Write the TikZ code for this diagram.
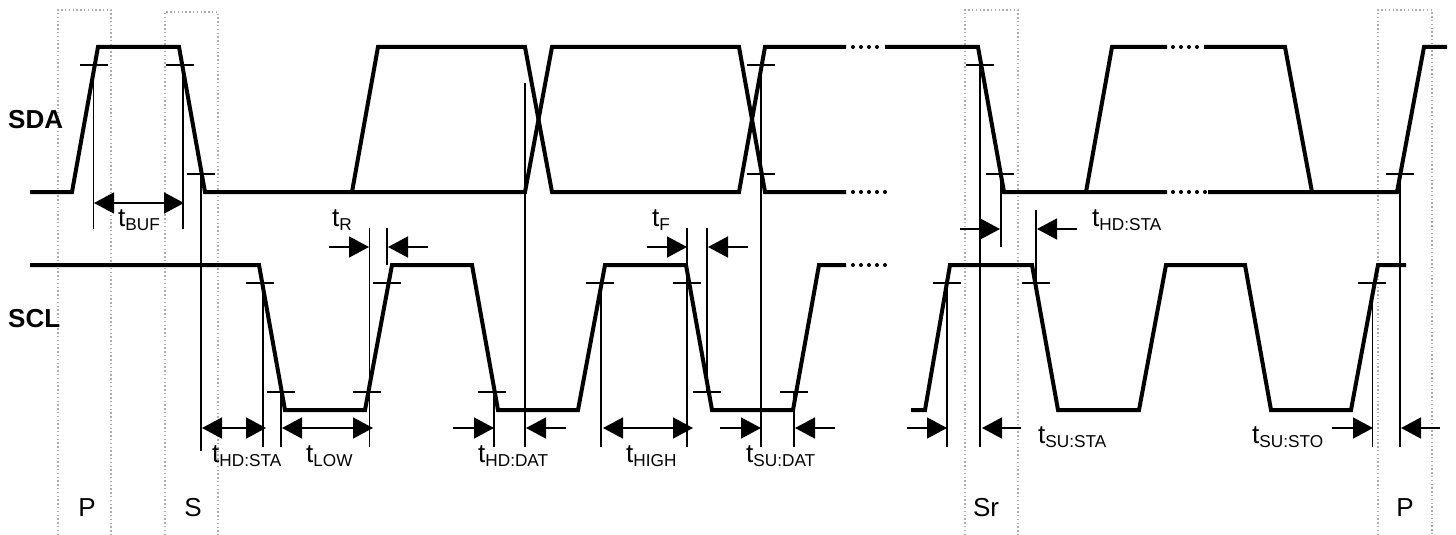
\documentclass[tikz,border=0pt]{standalone}
\usepackage{fontspec}
\setmainfont{Liberation Sans}
\usetikzlibrary{arrows.meta}
\newcommand{\tsub}[1]{\fontsize{26}{26}\selectfont t\raisebox{-4pt}{\fontsize{17.2}{17}\selectfont #1}}
\tikzset{
	signal/.style={line width=4pt,line join=miter},
	signaldots/.style={line width=4pt,line cap=round,dash pattern=on 0pt off 8pt},
	thin line/.style={line width=1.4pt},
	dim/.style={line width=1.6pt,>={Triangle[length=20pt,width=21pt]}},
	phase/.style={draw=black!32,line width=1.3pt,dash pattern=on 1.4pt off 2.4pt},
	tlabel/.style={anchor=base west,inner sep=0pt},
	phaselabel/.style={anchor=base,inner sep=0pt,font=\fontsize{26}{26}\selectfont},
	linelabel/.style={anchor=base west,inner sep=0pt,font=\fontsize{26}{26}\selectfont\bfseries}
}
\begin{document}
\begin{tikzpicture}[x=1pt,y=-1pt]
		\useasboundingbox (0,0) rectangle (1456,535);
		% phase boxes
		\draw[phase] (58,535) -- (58,10) -- (111,10) -- (111,535);
		\draw[phase] (165,535) -- (165,12) -- (218,12) -- (218,535);
		\draw[phase] (965,535) -- (965,10) -- (1018,10) -- (1018,535);
		\draw[phase] (1378,535) -- (1378,10) -- (1432,10) -- (1432,535);
		% SDA
		\draw[signal] (30,192) -- (72,192) -- (98,47) -- (179,47) -- (205,192) -- (525,192) -- (552,47) -- (739,47) -- (765,192) -- (846,192);
		\draw[signal] (352,192) -- (378,47) -- (525,47) -- (552,192) -- (739,192) -- (765,47) -- (846,47);
		\draw[signal] (885,47) -- (978,47) -- (1004,192) -- (1167,192);
		\draw[signal] (1086,192) -- (1112,47) -- (1167,47);
		\draw[signal] (1204,47) -- (1285,47) -- (1312,192);
		\draw[signal] (1208,192) -- (1397,192) -- (1424,47) -- (1447,47);
		\draw[signaldots] (853,47) -- (880,47);
		\draw[signaldots] (853,192) -- (886,192);
		\draw[signaldots] (1173,47) -- (1198,47);
		\draw[signaldots] (1173,192) -- (1206,192);
		% SCL
		\draw[signal] (30,265) -- (259,265) -- (285,410) -- (365,410) -- (392,265) -- (472,265) -- (498,410) -- (578,410) -- (605,265) -- (686,265) -- (712,410) -- (793,410) -- (819,265) -- (846,265);
		\draw[signal] (911,410) -- (925,410) -- (950,265) -- (1032,265) -- (1058,410) -- (1139,410) -- (1166,265) -- (1245,265) -- (1271,410) -- (1351,410) -- (1378,265) -- (1406,265);
		\draw[signaldots] (853,265) -- (886,265);
		% threshold marks
		\foreach \x in {94,180,761,980}
			\draw[thin line] (\x-14,65) -- (\x+14,65);
		\foreach \x in {201,761,1000,1400}
			\draw[thin line] (\x-14,174) -- (\x+14,174);
		\foreach \x in {260,387,600,687,947,1036,1372}
			\draw[thin line] (\x-14,283) -- (\x+14,283);
		\foreach \x in {281,367,492,707,794}
			\draw[thin line] (\x-14,392) -- (\x+14,392);
		% extension lines
		\foreach \x/\a/\b in {93.5/65/229,183/65/229,201/174/451,263/283/447,281/392/447,369.5/228/447,387/228/265,525/83/447,494/392/447,601/283/447,687/228/447,707/228/392,761/65/447,794/392/447,947/283/447,980/65/447,1001/174/247,1036/210/283,1372.5/283/447,1400/174/447}
			\draw[thin line] (\x,\a) -- (\x,\b);
		% dimension arrows
		\draw[dim,<->] (94,203) -- (184,203);
		\draw[dim,<->] (202,428) -- (266,428);
		\draw[dim,<->] (282,428) -- (373,428);
		\draw[dim,<->] (603,428) -- (693,428);
		\foreach \a/\b/\y in {329/369/247,428/388/247,647/687/247,748/708/247,960/1000/229,1077/1037/229,453/494/428,566/526/428,720/761/428,835/795/428,907/947/428,1021/982/428,1332/1373/428,1440/1401/428}
			\draw[dim,->] (\a,\y) -- (\b,\y);
		% labels
		\node[linelabel] (sda) at (8,128) {SDA};
		\node[linelabel] (scl) at (8,327) {SCL};
		\node[phaselabel] (p1) at (87,516) {P};
		\node[phaselabel] (s) at (193,516) {S};
		\node[phaselabel] (sr) at (986,516) {Sr};
		\node[phaselabel] (p2) at (1405,516) {P};
		\node[tlabel] (tbuf) at (118,226) {\tsub{BUF}};
		\node[tlabel] (tr) at (332,226) {\tsub{R}};
		\node[tlabel] (tf) at (652,226) {\tsub{F}};
		\node[tlabel] (thdsta) at (212,462) {\tsub{HD:STA}};
		\node[tlabel] (tlow) at (306,462) {\tsub{LOW}};
		\node[tlabel] (thddat) at (478,462) {\tsub{HD:DAT}};
		\node[tlabel] (thigh) at (626,462) {\tsub{HIGH}};
		\node[tlabel] (tsudat) at (746,462) {\tsub{SU:DAT}};
		\node[tlabel] (thdstb) at (1092,226) {\tsub{HD:STA}};
		\node[tlabel] (tsusta) at (1038,443) {\tsub{SU:STA}};
		\node[tlabel] (tsusto) at (1252,443) {\tsub{SU:STO}};
	\end{tikzpicture}
\end{document}
